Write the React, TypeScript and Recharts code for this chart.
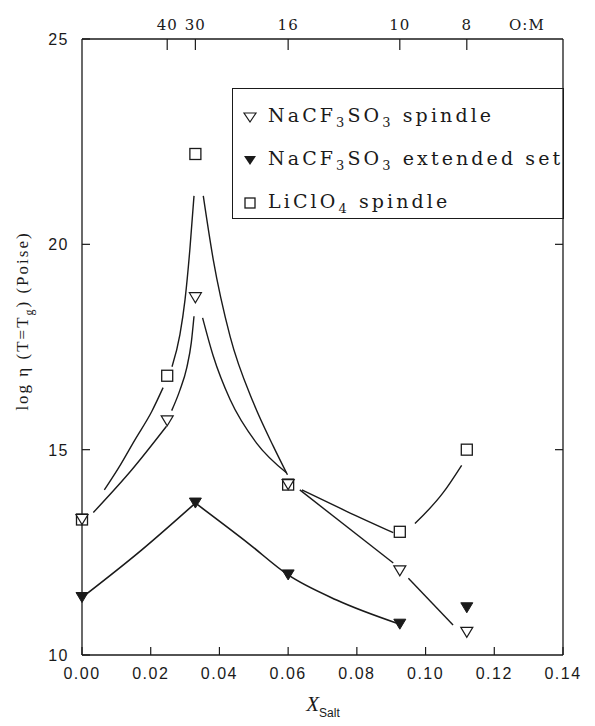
import React from 'react'
import { ComposedChart, Line, Scatter, XAxis, YAxis, Legend } from 'recharts'

// salt mole fraction of each composition
const saltFractions = [0.0, 0.0248, 0.033, 0.06, 0.0925, 0.112]
const extendedFractions = [0.0, 0.033, 0.06, 0.0925, 0.112]

// log viscosity at Tg (Poise)
const naSpindle = [13.3, 15.7, 18.7, 14.15, 12.05, 10.55]
const naExtended = [11.4, 13.7, 11.95, 10.75, 11.15]
const liSpindle = [13.3, 16.8, 22.2, 14.15, 13.0, 15.0]

// O:M ratio labels on the top axis
const omLabels = ['40', '30', '16', '10', '8']
const omTitleX = 0.1295

const xTicks = [0, 0.02, 0.04, 0.06, 0.08, 0.1, 0.12, 0.14]
const yTicks = [10, 15, 20, 25]

// hand drawn guide curves (segments, [x, y])
const naSpindleFit = [
  [[0.0033, 13.47], [0.0145, 14.51], [0.0246, 15.57]],
  [[0.0261, 15.95], [0.0285, 16.45], [0.0305, 17.0], [0.0318, 17.6], [0.0326, 18.25]],
  [[0.0351, 18.21], [0.0382, 17.28], [0.0431, 16.22], [0.0508, 15.16], [0.0596, 14.43]],
  [[0.0634, 14.02], [0.0906, 12.24]],
  [[0.095, 11.87], [0.108, 10.73]],
]
const naExtendedFit = [
  [[0.0, 11.4], [0.0174, 12.56], [0.033, 13.7]],
  [[0.033, 13.7], [0.0484, 12.72], [0.06, 11.95], [0.0741, 11.34], [0.0925, 10.75]],
]
const liSpindleFit = [
  [[0.0065, 14.02], [0.0106, 14.55], [0.0154, 15.24], [0.0203, 15.93], [0.0236, 16.51]],
  [[0.0262, 17.02], [0.0285, 17.8], [0.03, 18.66], [0.0314, 19.88], [0.0326, 21.18]],
  [[0.0353, 21.18], [0.0382, 19.63], [0.0431, 17.76], [0.0499, 16.14], [0.0557, 15.08], [0.0598, 14.39]],
  [[0.064, 14.02], [0.077, 13.5], [0.0906, 12.98]],
  [[0.0969, 13.2], [0.105, 13.94], [0.1105, 14.62]],
]

const INK = '#1a1a1a'
const SANS = '"Liberation Sans", Arial, sans-serif'
const SERIF = '"Liberation Serif", "Times New Roman", serif'
const TYPE = '"DejaVu Serif", serif'

const toPoints = (xs: number[], ys: number[]) => xs.map((x, i) => ({ x, y: ys[i] }))
const toSeg = (seg: number[][]) => seg.map(([x, y]) => ({ x, y }))

const OpenTri = ({ cx, cy }: any) => (
  <polygon
    points={`${cx - 6},${cy - 5} ${cx + 6},${cy - 5} ${cx},${cy + 5}`}
    fill='#fff'
    stroke={INK}
    strokeWidth={1.2}
  />
)
const FilledTri = ({ cx, cy }: any) => (
  <polygon
    points={`${cx - 6},${cy - 5} ${cx + 6},${cy - 5} ${cx},${cy + 5}`}
    fill={INK}
    stroke={INK}
    strokeWidth={1}
  />
)
const Square = ({ cx, cy }: any) => (
  <rect x={cx - 5.5} y={cy - 5.5} width={11} height={11} fill='none' stroke={INK} strokeWidth={1.3} />
)

const BottomTick = ({ x, y, payload }: any) => (
  <g>
    <line x1={x} x2={x} y1={y} y2={y - 8} stroke={INK} strokeWidth={1.2} />
    <text x={x} y={y + 24} textAnchor='middle' fontFamily={SANS} fontSize={16} letterSpacing={1.5} fill={INK}>
      {payload.value.toFixed(2)}
    </text>
  </g>
)

const TopTick = ({ x, y, index }: any) => {
  const isTitle = index >= omLabels.length
  return (
    <g>
      {!isTitle && <line x1={x} x2={x} y1={y} y2={y + 11} stroke={INK} strokeWidth={1.2} />}
      <text x={x} y={y - 9} textAnchor='middle' fontFamily={TYPE} fontSize={15} letterSpacing={1} fill={INK}>
        {isTitle ? 'O:M' : omLabels[index]}
      </text>
    </g>
  )
}

const LeftTick = ({ x, y, payload }: any) => (
  <g>
    <line x1={x} x2={x + 8} y1={y} y2={y} stroke={INK} strokeWidth={1.2} />
    <text x={x - 13} y={y + 6} textAnchor='end' fontFamily={SANS} fontSize={16} letterSpacing={1.5} fill={INK}>
      {payload.value}
    </text>
  </g>
)

const RightTick = ({ x, y }: any) => (
  <line x1={x} x2={x - 8} y1={y} y2={y} stroke={INK} strokeWidth={1.2} />
)

const YTitle = () => (
  <text
    transform='rotate(-90, 28, 321)'
    x={28}
    y={321}
    textAnchor='middle'
    fontFamily={SERIF}
    fontSize={17}
    letterSpacing={2}
    fill={INK}
  >
    log η (T=T<tspan dy={5} fontSize={12}>g</tspan>
    <tspan dy={-5}>) (Poise)</tspan>
  </text>
)

const XTitle = () => (
  <text x={323} y={711} textAnchor='middle' fill={INK}>
    <tspan fontFamily={SERIF} fontStyle='italic' fontSize={21}>X</tspan>
    <tspan fontFamily={SANS} fontSize={12} dy={6}>Salt</tspan>
  </text>
)

const legendRows = [
  { key: 'open', shape: 'open', parts: ['NaCF', '3', 'SO', '3', ' spindle'] },
  { key: 'filled', shape: 'filled', parts: ['NaCF', '3', 'SO', '3', ' extended set'] },
  { key: 'li', shape: 'square', parts: ['LiClO', '4', ' spindle'] },
]

const LegendIcon = ({ shape }: { shape: string }) => (
  <svg width={16} height={16} style={{ marginRight: 10, flexShrink: 0 }}>
    {shape === 'open' && <polygon points='2,4 14,4 8,13' fill='#fff' stroke={INK} strokeWidth={1.2} />}
    {shape === 'filled' && <polygon points='2,4 14,4 8,13' fill={INK} />}
    {shape === 'square' && <rect x={3} y={3} width={10} height={10} fill='none' stroke={INK} strokeWidth={1.3} />}
  </svg>
)

const LegendBox = () => (
  <div
    style={{
      border: `1.3px solid ${INK}`,
      width: 332,
      height: 131,
      boxSizing: 'border-box',
      padding: '6px 0 0 9px',
      fontFamily: TYPE,
      fontSize: 19,
      letterSpacing: 3.1,
      color: INK,
    }}
  >
    {legendRows.map((row) => (
      <div key={row.key} style={{ display: 'flex', alignItems: 'center', height: 43, whiteSpace: 'pre' }}>
        <LegendIcon shape={row.shape} />
        <span>
          {row.parts.map((p, i) =>
            i % 2 === 1 ? (
              <sub key={i} style={{ fontSize: 13 }}>{p}</sub>
            ) : (
              <span key={i}>{p}</span>
            ),
          )}
        </span>
      </div>
    ))}
  </div>
)

export default function App() {
  return (
    <div style={{ position: 'absolute', left: 0, top: 0, width: 595, height: 726, background: '#fff' }}>
      <ComposedChart width={595} height={726} margin={{ top: 9, right: 22, bottom: 31, left: 22 }}>
        <XAxis
          xAxisId={0}
          type='number'
          dataKey='x'
          domain={[0, 0.14]}
          ticks={xTicks}
          height={40}
          tickSize={0}
          tickMargin={0}
          tickLine={false}
          axisLine={{ stroke: INK, strokeWidth: 1.3 }}
          tick={<BottomTick />}
          interval={0}
          label={<XTitle />}
        />
        <XAxis
          xAxisId='top'
          orientation='top'
          type='number'
          dataKey='x'
          domain={[0, 0.14]}
          ticks={[...saltFractions.slice(1), omTitleX]}
          height={30}
          tickSize={0}
          tickMargin={0}
          tickLine={false}
          axisLine={{ stroke: INK, strokeWidth: 1.3 }}
          tick={<TopTick />}
          interval={0}
        />
        <YAxis
          yAxisId={0}
          type='number'
          dataKey='y'
          domain={[10, 25]}
          ticks={yTicks}
          width={60}
          tickSize={0}
          tickMargin={0}
          tickLine={false}
          axisLine={{ stroke: INK, strokeWidth: 1.3 }}
          tick={<LeftTick />}
          interval={0}
          label={<YTitle />}
        />
        <YAxis
          yAxisId='right'
          orientation='right'
          type='number'
          dataKey='y'
          domain={[10, 25]}
          ticks={[15, 20]}
          width={10}
          tickSize={0}
          tickMargin={0}
          tickLine={false}
          axisLine={{ stroke: INK, strokeWidth: 1.3 }}
          tick={<RightTick />}
          interval={0}
        />
        <Legend
          layout='vertical'
          align='center'
          verticalAlign='middle'
          content={<LegendBox />}
          wrapperStyle={{ position: 'absolute', left: 232, top: 88, width: 332, height: 131 }}
        />
        {liSpindleFit.map((seg, i) => (
          <Line
            key={`li${i}`}
            data={toSeg(seg)}
            dataKey='y'
            type='monotone'
            stroke={INK}
            strokeWidth={1.4}
            dot={false}
            isAnimationActive={false}
            legendType='none'
          />
        ))}
        {naSpindleFit.map((seg, i) => (
          <Line
            key={`ns${i}`}
            data={toSeg(seg)}
            dataKey='y'
            type='monotone'
            stroke={INK}
            strokeWidth={1.4}
            dot={false}
            isAnimationActive={false}
            legendType='none'
          />
        ))}
        {naExtendedFit.map((seg, i) => (
          <Line
            key={`ne${i}`}
            data={toSeg(seg)}
            dataKey='y'
            type='monotone'
            stroke={INK}
            strokeWidth={1.6}
            dot={false}
            isAnimationActive={false}
            legendType='none'
          />
        ))}
        {/* the square series is bound to the top/right axes (same domains) so both get a scale */}
        <Scatter
          name='LiClO4 spindle'
          xAxisId='top'
          yAxisId='right'
          data={toPoints(saltFractions, liSpindle)}
          shape={<Square />}
          isAnimationActive={false}
        />
        <Scatter
          name='NaCF3SO3 spindle'
          data={toPoints(saltFractions, naSpindle)}
          shape={<OpenTri />}
          isAnimationActive={false}
        />
        <Scatter
          name='NaCF3SO3 extended set'
          data={toPoints(extendedFractions, naExtended)}
          shape={<FilledTri />}
          isAnimationActive={false}
        />
      </ComposedChart>
    </div>
  )
}
